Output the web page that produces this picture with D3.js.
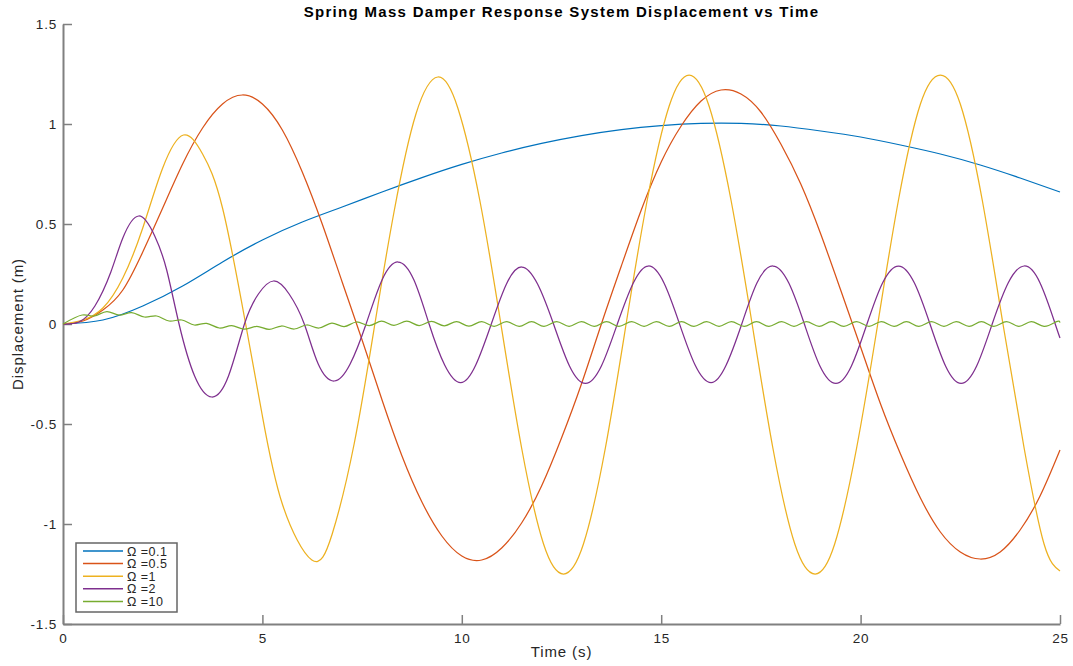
<!DOCTYPE html>
<html lang="en">
<head>
  <meta charset="UTF-8">
  <title>Spring Mass Damper Response</title>
  <style>
    body { margin: 0; background: #fff; }
    svg { display: block; font-family: "Liberation Sans", Arial, Helvetica, sans-serif; }
    .axis path, .axis line { stroke: #808080; }
    .axis text { fill: #262626; font-size: 13.5px; letter-spacing: 0.8px; }
  </style>
</head>
<body>
<div class="chart"></div>
<script src="https://cdn.jsdelivr.net/npm/d3@7/dist/d3.min.js"></script>
<script>
  // values (time in s, displacement in m)
  const xTicks = [0, 5, 10, 15, 20, 25];
  const yTicks = [-1.5, -1, -0.5, 0, 0.5, 1, 1.5];
  const labels = ["Ω =0.1", "Ω =0.5", "Ω =1", "Ω =2", "Ω =10"];
  const colors = ["#0072BD", "#D95319", "#EDB120", "#7E2F8E", "#77AC30"];

  const tBlue = [0, 1, 2, 3, 4, 5, 6, 7, 8, 9, 10, 11, 12, 13, 14, 15, 16, 17, 18, 19, 20, 21, 22, 23, 24, 25];
  const yBlue = [0, 0.02, 0.09, 0.19, 0.31, 0.42, 0.51, 0.585, 0.66, 0.732, 0.798, 0.855, 0.903, 0.942, 0.972, 0.992, 1.003, 1.003, 0.99, 0.965, 0.935, 0.895, 0.85, 0.795, 0.73, 0.66];

  const tOrange = [0, 0.5, 1, 1.5, 2, 2.5, 3, 3.5, 4, 4.5, 5, 5.5, 6, 6.5, 7, 7.5, 8, 8.5, 9, 9.5, 10, 10.5, 11, 11.5, 12, 12.5, 13, 13.5, 14, 14.5, 15, 15.5, 16, 16.5, 17, 17.5, 18, 18.5, 19, 19.5, 20, 20.5, 21, 21.5, 22, 22.5, 23, 23.5, 24, 24.5, 25];
  const yOrange = [0, 0.015, 0.07, 0.17, 0.36, 0.58, 0.8, 0.98, 1.1, 1.145, 1.1, 0.97, 0.76, 0.5, 0.21, -0.08, -0.38, -0.66, -0.89, -1.06, -1.16, -1.18, -1.12, -0.995, -0.81, -0.57, -0.3, 0, 0.29, 0.57, 0.81, 0.99, 1.115, 1.17, 1.15, 1.06, 0.9, 0.7, 0.45, 0.17, -0.115, -0.4, -0.65, -0.87, -1.04, -1.14, -1.175, -1.14, -1.03, -0.86, -0.63];

  const tYellow = [0, 0.5, 1, 1.5, 2, 2.5, 3.02, 3.5, 4, 4.58, 5, 5.5, 6.24, 6.75, 7.3, 7.82, 8.3, 8.85, 9.4, 9.9, 10.45, 10.98, 11.5, 12.05, 12.55, 13.05, 13.6, 14.12, 14.65, 15.2, 15.7, 16.2, 16.75, 17.28, 17.8, 18.35, 18.86, 19.35, 19.9, 20.43, 20.95, 21.5, 22.0, 22.5, 23.05, 23.57, 24.1, 24.6, 25];
  const yYellow = [0, 0.02, 0.08, 0.23, 0.48, 0.78, 0.945, 0.85, 0.58, 0, -0.46, -0.9, -1.18, -1.05, -0.6, 0, 0.56, 1.05, 1.235, 1.08, 0.62, 0, -0.62, -1.1, -1.25, -1.1, -0.62, 0, 0.62, 1.09, 1.245, 1.09, 0.62, 0, -0.62, -1.1, -1.25, -1.1, -0.62, 0, 0.62, 1.1, 1.245, 1.1, 0.62, 0, -0.62, -1.1, -1.235];

  const tPurple = [0, 0.4, 0.8, 1.2, 1.5, 1.9, 2.3, 2.6, 2.91, 3.3, 3.73, 4.15, 4.55, 4.9, 5.28, 5.67, 6.05, 6.4, 6.8, 7.2, 7.6, 8.0, 8.4, 8.8, 9.18, 9.57, 9.97, 10.35, 10.74, 11.12, 11.5, 11.9, 12.3, 12.7, 13.1, 13.5, 13.9, 14.3, 14.68, 15.07, 15.46, 15.85, 16.25, 16.63, 17.02, 17.4, 17.8, 18.2, 18.59, 18.98, 19.38, 19.77, 20.16, 20.55, 20.95, 21.35, 21.74, 22.13, 22.52, 22.91, 23.3, 23.7, 24.1, 24.5, 24.88, 25];
  const yPurple = [0, 0.01, 0.09, 0.26, 0.43, 0.54, 0.44, 0.27, 0, -0.26, -0.365, -0.26, 0, 0.15, 0.215, 0.15, 0, -0.2, -0.285, -0.2, 0, 0.22, 0.31, 0.22, 0, -0.205, -0.293, -0.205, 0, 0.2, 0.285, 0.2, 0, -0.21, -0.297, -0.21, 0, 0.205, 0.29, 0.205, 0, -0.205, -0.293, -0.205, 0, 0.205, 0.29, 0.205, 0, -0.21, -0.297, -0.21, 0, 0.205, 0.29, 0.205, 0, -0.21, -0.297, -0.21, 0, 0.205, 0.29, 0.205, 0, -0.07];

  const tGreen = [0, 0.48, 0.79, 1.10, 1.41, 1.72, 2.04, 2.35, 2.66, 2.98, 3.29, 3.60, 3.92, 4.23, 4.54, 4.86, 5.17, 5.48, 5.80, 6.11, 6.42, 6.74, 7.05, 7.36, 7.68, 7.99, 8.30, 8.62, 8.93, 9.24, 9.56, 9.87, 10.18, 10.50, 10.81, 11.12, 11.44, 11.75, 12.06, 12.38, 12.69, 13.00, 13.32, 13.63, 13.94, 14.26, 14.57, 14.88, 15.20, 15.51, 15.82, 16.14, 16.45, 16.76, 17.08, 17.39, 17.70, 18.02, 18.33, 18.64, 18.96, 19.27, 19.58, 19.90, 20.21, 20.52, 20.84, 21.15, 21.46, 21.78, 22.09, 22.40, 22.72, 23.03, 23.34, 23.66, 23.97, 24.28, 24.60, 24.91, 25.0];
  const yGreen = [0, 0.045, 0.04, 0.062, 0.045, 0.057, 0.035, 0.04, 0.015, 0.02, -0.005, 0.003, -0.02, -0.008, -0.026, -0.012, -0.027, -0.01, -0.025, -0.005, -0.02, 0.004, -0.013, 0.01, -0.008, 0.014, -0.007, 0.014, -0.008, 0.013, -0.009, 0.012, -0.011, 0.012, -0.012, 0.012, -0.012, 0.012, -0.012, 0.012, -0.012, 0.012, -0.012, 0.012, -0.012, 0.012, -0.012, 0.012, -0.012, 0.012, -0.012, 0.012, -0.012, 0.012, -0.012, 0.012, -0.012, 0.012, -0.012, 0.012, -0.012, 0.012, -0.012, 0.012, -0.012, 0.012, -0.012, 0.012, -0.012, 0.012, -0.012, 0.012, -0.012, 0.012, -0.012, 0.012, -0.012, 0.012, -0.012, 0.012, 0.007];

  const series = [
    { t: tBlue, y: yBlue },
    { t: tOrange, y: yOrange },
    { t: tYellow, y: yYellow },
    { t: tPurple, y: yPurple },
    { t: tGreen, y: yGreen }
  ].map((s, i) => ({ label: labels[i], color: colors[i], points: s.t.map((t, j) => [t, s.y[j]]) }));

  const width = 1073,
    height = 666;
  const plotLeft = 63, plotRight = 1060, plotTop = 24, plotBottom = 624;

  const svg = d3.select(".chart")
    .append("svg")
    .attr("width", width)
    .attr("height", height);

  const x = d3.scaleLinear().domain([0, 25]).range([plotLeft, plotRight]);
  const y = d3.scaleLinear().domain([-1.5, 1.5]).range([plotBottom, plotTop]);

  // axes: only left and bottom, ticks pointing inward
  svg.append("g")
    .attr("class", "axis")
    .attr("transform", `translate(0, ${plotBottom})`)
    .call(d3.axisBottom(x).tickValues(xTicks).tickSizeInner(-9).tickSizeOuter(0).tickPadding(9).tickFormat(d => String(d)))
    .call(g => g.select(".domain").attr("stroke-width", 2));

  svg.append("g")
    .attr("class", "axis")
    .attr("transform", `translate(${plotLeft}, 0)`)
    .call(d3.axisLeft(y).tickValues(yTicks).tickSizeInner(-9).tickSizeOuter(0).tickPadding(6).tickFormat(d => String(d)))
    .call(g => g.select(".domain").attr("stroke-width", 2));

  svg.selectAll(".axis line").attr("stroke-width", 1.5);

  const line = d3.line()
    .curve(d3.curveNatural)
    .x(d => x(d[0]))
    .y(d => y(d[1]));

  svg.append("g")
    .selectAll("path")
    .data(series)
    .enter()
    .append("path")
    .attr("d", d => line(d.points))
    .attr("fill", "none")
    .attr("stroke", d => d.color)
    .attr("stroke-width", 1.25);

  svg.append("text")
    .attr("x", (plotLeft + plotRight) / 2)
    .attr("y", 17)
    .attr("text-anchor", "middle")
    .attr("font-size", 15)
    .attr("font-weight", "bold")
    .attr("letter-spacing", 1.3)
    .attr("fill", "#000")
    .text("Spring Mass Damper Response System Displacement vs Time");

  svg.append("text")
    .attr("x", (plotLeft + plotRight) / 2)
    .attr("y", 657)
    .attr("text-anchor", "middle")
    .attr("font-size", 15)
    .attr("letter-spacing", 0.9)
    .attr("fill", "#262626")
    .text("Time (s)");

  svg.append("text")
    .attr("transform", `translate(23, ${(plotTop + plotBottom) / 2}) rotate(-90)`)
    .attr("text-anchor", "middle")
    .attr("font-size", 15)
    .attr("letter-spacing", 0.9)
    .attr("fill", "#262626")
    .text("Displacement (m)");

  // legend
  const legend = svg.append("g").attr("transform", "translate(76, 543)");
  legend.append("rect")
    .attr("width", 101)
    .attr("height", 69)
    .attr("fill", "#fff")
    .attr("stroke", "#666")
    .attr("stroke-width", 1.5);

  const rows = legend.selectAll(".row")
    .data(series)
    .enter()
    .append("g")
    .attr("transform", (d, i) => `translate(0, ${8 + i * 12.6})`);

  rows.append("line")
    .attr("x1", 7)
    .attr("x2", 47)
    .attr("stroke", d => d.color)
    .attr("stroke-width", 1.5);

  rows.append("text")
    .attr("x", 51)
    .attr("y", 4.5)
    .attr("font-size", 12.5)
    .attr("letter-spacing", 0.5)
    .attr("fill", "#262626")
    .text(d => d.label);
</script>
</body>
</html>
